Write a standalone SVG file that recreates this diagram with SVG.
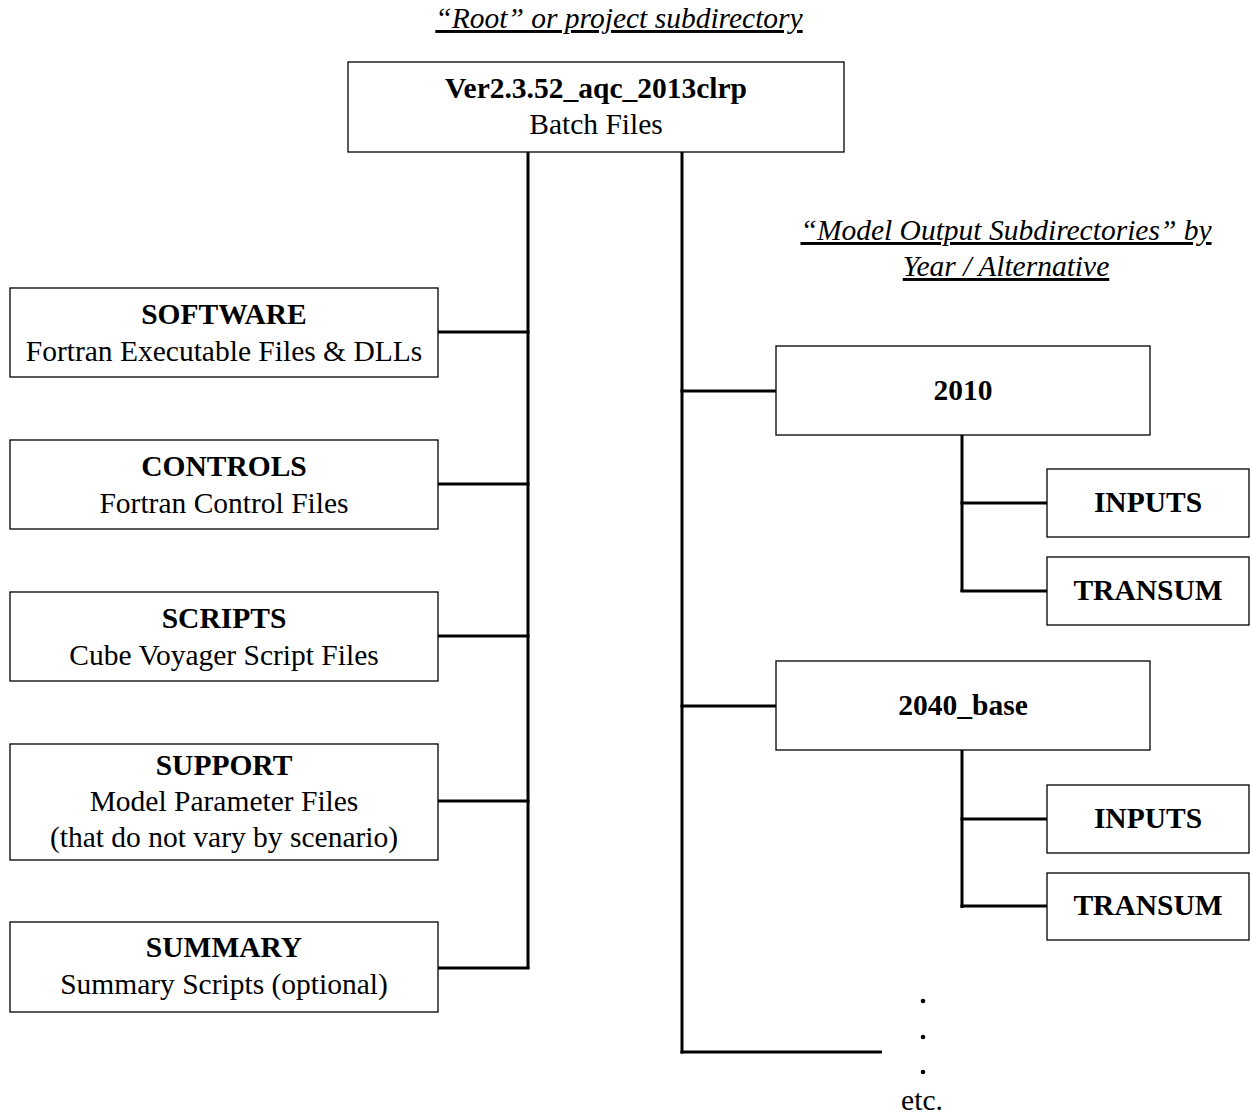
<svg xmlns="http://www.w3.org/2000/svg" width="1250" height="1118" viewBox="0 0 1250 1118">
<style>
text{font-family:"Liberation Serif","Times New Roman",serif;font-size:29.5px;fill:#000;text-anchor:middle}
.b{font-weight:bold}
.h{font-style:italic;text-decoration:underline}
rect{fill:#fff;stroke:#000;stroke-width:1.3}
.c line{stroke:#000;stroke-width:3}
</style>
<rect x="0" y="0" width="1250" height="1118" style="fill:#fff;stroke:none"/>
<text class="h" x="619" y="28">“Root” or project subdirectory</text>
<text class="h" x="1006" y="240">“Model Output Subdirectories” by</text>
<text class="h" x="1006" y="276">Year / Alternative</text>
<g class="c" id="connectors">
<line x1="528" y1="152" x2="528" y2="969"/>
<line x1="438" y1="332" x2="529.5" y2="332"/>
<line x1="438" y1="484" x2="529.5" y2="484"/>
<line x1="438" y1="636" x2="529.5" y2="636"/>
<line x1="438" y1="801" x2="529.5" y2="801"/>
<line x1="438" y1="968" x2="529.5" y2="968"/>
<line x1="682" y1="152" x2="682" y2="1053.5"/>
<line x1="680.5" y1="391" x2="776" y2="391"/>
<line x1="680.5" y1="706" x2="776" y2="706"/>
<line x1="680.5" y1="1052" x2="882" y2="1052"/>
<line x1="962" y1="435" x2="962" y2="592"/>
<line x1="960.5" y1="503" x2="1047" y2="503"/>
<line x1="960.5" y1="591" x2="1047" y2="591"/>
<line x1="962" y1="750" x2="962" y2="908"/>
<line x1="960.5" y1="819" x2="1047" y2="819"/>
<line x1="960.5" y1="906" x2="1047" y2="906"/>
</g>
<g id="root"><rect x="348" y="62" width="496" height="90"/><text class="b" x="596" y="98">Ver2.3.52_aqc_2013clrp</text><text x="596" y="134">Batch Files</text></g>
<g id="software"><rect x="10" y="288" width="428" height="89"/><text class="b" x="224" y="324">SOFTWARE</text><text x="224" y="361">Fortran Executable Files &amp; DLLs</text></g>
<g id="controls"><rect x="10" y="440" width="428" height="89"/><text class="b" x="224" y="476">CONTROLS</text><text x="224" y="513">Fortran Control Files</text></g>
<g id="scripts"><rect x="10" y="592" width="428" height="89"/><text class="b" x="224" y="628">SCRIPTS</text><text x="224" y="665">Cube Voyager Script Files</text></g>
<g id="support"><rect x="10" y="744" width="428" height="116"/><text class="b" x="224" y="775">SUPPORT</text><text x="224" y="811">Model Parameter Files</text><text x="224" y="847">(that do not vary by scenario)</text></g>
<g id="summary"><rect x="10" y="922" width="428" height="90"/><text class="b" x="224" y="957">SUMMARY</text><text x="224" y="994">Summary Scripts (optional)</text></g>
<g id="y2010"><rect x="776" y="346" width="374" height="89"/><text class="b" x="963" y="400">2010</text></g>
<g id="inputs1"><rect x="1047" y="469" width="202" height="68"/><text class="b" x="1148" y="512">INPUTS</text></g>
<g id="transum1"><rect x="1047" y="557" width="202" height="68"/><text class="b" x="1148" y="600">TRANSUM</text></g>
<g id="y2040"><rect x="776" y="661" width="374" height="89"/><text class="b" x="963" y="715">2040_base</text></g>
<g id="inputs2"><rect x="1047" y="785" width="202" height="68"/><text class="b" x="1148" y="828">INPUTS</text></g>
<g id="transum2"><rect x="1047" y="873" width="202" height="67"/><text class="b" x="1148" y="915">TRANSUM</text></g>
<g id="etc">
<circle cx="923" cy="1001" r="2.3"/><circle cx="923" cy="1037" r="2.3"/><circle cx="923" cy="1072" r="2.3"/>
<text x="922" y="1110">etc.</text>
</g>
</svg>
